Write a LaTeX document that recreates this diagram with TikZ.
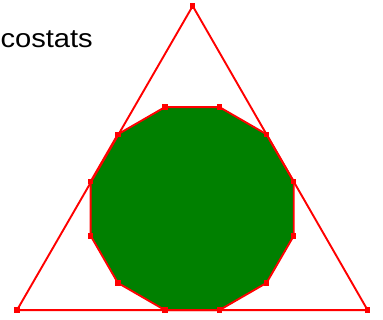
\documentclass[tikz,border=0pt]{standalone}
\usepackage{fontspec}
\setmainfont{Liberation Sans}
\usetikzlibrary{calc}
\definecolor{polyred}{HTML}{FF0000}
\definecolor{polygreen}{HTML}{008000}
\begin{document}
\begin{tikzpicture}[x=1pt,y=-1pt,
  mk/.style={fill=polyred,minimum size=5.5pt,inner sep=0pt,draw=none,shape=rectangle},
  redline/.style={draw=polyred,line width=1.9pt,line join=round},
  label/.style={font=\fontsize{26}{28}\selectfont,anchor=base west,inner sep=0pt,xscale=1.12}]
\useasboundingbox (0,0) rectangle (383,320);
\coordinate (O) at (192.2,208.6);
\foreach \i in {0,...,11} {
  \coordinate (d\i) at ($(O)+({15+30*\i}:105.1)$);
}
\coordinate (tA) at (192.7,6.0);
\coordinate (tB) at (17.0,310.1);
\coordinate (tC) at (367.6,310.1);
\fill[polygreen] (d0) -- (d1) -- (d2) -- (d3) -- (d4) -- (d5) -- (d6) -- (d7) -- (d8) -- (d9) -- (d10) -- (d11) -- cycle;
\draw[redline] (tA) -- (tB) -- (tC) -- cycle;
\draw[redline] (d0) -- (d1) -- (d2) -- (d3) -- (d4) -- (d5) -- (d6) -- (d7) -- (d8) -- (d9) -- (d10) -- (d11) -- cycle;
\foreach \i in {0,...,11} { \node[mk] (m\i) at (d\i) {}; }
\node[mk] (mA) at (tA) {};
\node[mk] (mB) at (tB) {};
\node[mk] (mC) at (tC) {};
\node[label] (title) at (0.3,47.5) {costats};
\end{tikzpicture}
\end{document}
